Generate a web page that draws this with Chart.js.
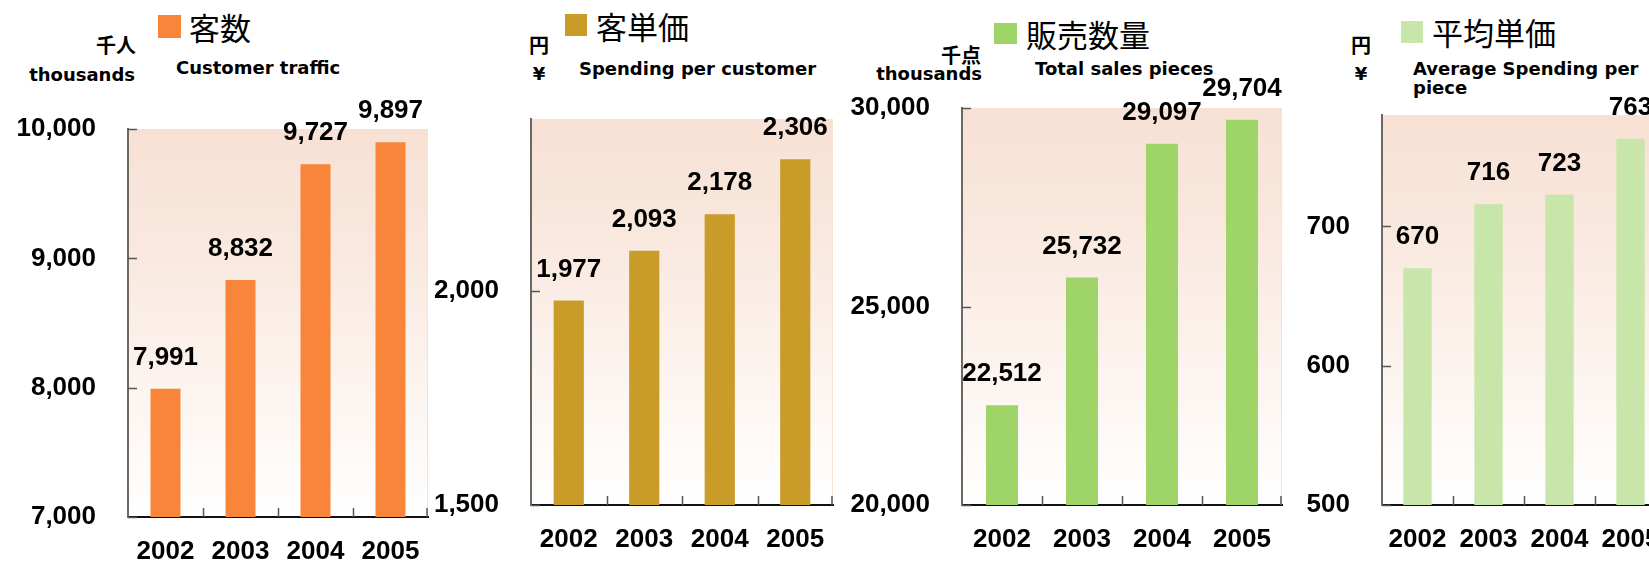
<!DOCTYPE html>
<html>
<head>
<meta charset="utf-8">
<script src="https://cdn.jsdelivr.net/npm/chart.js@4.4.0/dist/chart.umd.min.js"></script>
<style>
  body { margin: 0; width: 1649px; height: 563px; overflow: hidden; background: #fff; position: relative; }
  canvas { position: absolute; top: 0; }
  .sq { position: absolute; }
  .t { position: absolute; white-space: nowrap; color: #000; }
  .jp { font-family: "Noto Sans CJK JP", sans-serif; font-size: 31px; height: 40px; line-height: 40px; }
  .en { font-family: "DejaVu Sans", sans-serif; font-weight: bold; font-size: 18px; height: 20px; line-height: 20px; }
  .unit { font-family: "Noto Sans CJK JP", sans-serif; font-weight: bold; font-size: 20px; height: 20px; line-height: 20px; }
  .r { text-align: right; width: 120px; }
  .c { text-align: center; width: 40px; }
</style>
</head>
<body>
<!-- panel 1 -->
<div class="sq" style="left:158px;top:15px;width:23px;height:23px;background:#F9853B"></div>
<div class="t jp" style="left:189px;top:7px">客数</div>
<div class="t unit r" style="left:16px;top:35px">千人</div>
<div class="t en r" style="left:15px;top:65px">thousands</div>
<div class="t en" style="left:176px;top:58px">Customer traffic</div>
<!-- panel 2 -->
<div class="sq" style="left:565px;top:14px;width:22px;height:22px;background:#C99C2A"></div>
<div class="t jp" style="left:596px;top:6px">客単価</div>
<div class="t unit c" style="left:519px;top:35px">円</div>
<div class="t en c" style="left:519px;top:64px">¥</div>
<div class="t en" style="left:579px;top:59px">Spending per customer</div>
<!-- panel 3 -->
<div class="sq" style="left:994px;top:23px;width:23px;height:21px;background:#9ED468"></div>
<div class="t jp" style="left:1026px;top:14px">販売数量</div>
<div class="t unit r" style="left:861px;top:45px">千点</div>
<div class="t en r" style="left:862px;top:64px">thousands</div>
<div class="t en" style="left:1035px;top:59px">Total sales pieces</div>
<!-- panel 4 -->
<div class="sq" style="left:1401px;top:21px;width:22px;height:22px;background:#C9E6AA"></div>
<div class="t jp" style="left:1432px;top:12px">平均単価</div>
<div class="t unit c" style="left:1341px;top:35px">円</div>
<div class="t en c" style="left:1341px;top:64px">¥</div>
<div class="t en" style="left:1413px;top:59px;height:auto;line-height:19px">Average Spending per<br>piece</div>

<canvas id="c1"></canvas>
<canvas id="c2"></canvas>
<canvas id="c3"></canvas>
<canvas id="c4"></canvas>

<script>
const years = ['2002', '2003', '2004', '2005'];

const trafficValues = [7991, 8832, 9727, 9897];
const spendingValues = [1977, 2093, 2178, 2306];
const piecesValues = [22512, 25732, 29097, 29704];
const avgPriceValues = [670, 716, 723, 763];

const trafficTicks = [7000, 8000, 9000, 10000];
const spendingTicks = [1500, 2000];
const piecesTicks = [20000, 25000, 30000];
const avgPriceTicks = [500, 600, 700];

const numFont = { family: '"Liberation Sans", Arial, sans-serif', weight: 'bold', size: 26 };
const fmt = v => Number(v).toLocaleString('en-US');

// plot area placement on the page
const panels = [
  { id: 'c1', values: trafficValues, ticks: trafficTicks, min: 7000, max: 10000, color: '#F9853B', left: 128, right: 428, top: 129, bottom: 517 },
  { id: 'c2', values: spendingValues, ticks: spendingTicks, min: 1500, max: 2400, color: '#C99C2A', left: 531, right: 833, top: 119, bottom: 505 },
  { id: 'c3', values: piecesValues, ticks: piecesTicks, min: 20000, max: 30000, color: '#9ED468', left: 962, right: 1282, top: 108, bottom: 505 },
  { id: 'c4', values: avgPriceValues, ticks: avgPriceTicks, min: 500, max: 780, color: '#C9E6AA', left: 1382, right: 1666, top: 115, bottom: 505 }
];

const AXIS_W = 128, PAD_R = 30, H = 563;

const panelDeco = {
  id: 'panelDeco',
  beforeDraw(chart) {
    const { ctx, chartArea: a } = chart;
    const g = ctx.createLinearGradient(0, a.top, 0, a.bottom);
    g.addColorStop(0, '#F7E1D4');
    g.addColorStop(0.3, '#F9E8DE');
    g.addColorStop(1, '#FFFFFF');
    ctx.save();
    ctx.fillStyle = g;
    ctx.fillRect(a.left, a.top, a.right - a.left, a.bottom - a.top);
    ctx.strokeStyle = '#F3E6CC';
    ctx.lineWidth = 1;
    ctx.beginPath();
    ctx.moveTo(a.right - 0.5, a.top);
    ctx.lineTo(a.right - 0.5, a.bottom);
    ctx.stroke();
    ctx.restore();
  },
  afterDatasetsDraw(chart) {
    const { ctx, chartArea: a, scales: { x, y } } = chart;
    ctx.save();
    // inward tick marks
    ctx.strokeStyle = '#555';
    ctx.lineWidth = 1.5;
    ctx.beginPath();
    y.ticks.forEach(t => {
      const py = Math.round(y.getPixelForValue(t.value)) + 0.5;
      ctx.moveTo(a.left, py);
      ctx.lineTo(a.left + 9, py);
    });
    const n = chart.data.labels.length;
    for (let i = 1; i <= n; i++) {
      const px = i < n ? Math.round((x.getPixelForTick(i - 1) + x.getPixelForTick(i)) / 2) + 0.5 : a.right - 1;
      ctx.moveTo(px, a.bottom);
      ctx.lineTo(px, a.bottom - 9);
    }
    ctx.stroke();
    // value labels
    ctx.fillStyle = '#000';
    ctx.font = `${numFont.weight} ${numFont.size}px ${numFont.family}`;
    ctx.textAlign = 'center';
    ctx.textBaseline = 'middle';
    const meta = chart.getDatasetMeta(0);
    meta.data.forEach((bar, i) => {
      ctx.fillText(fmt(chart.data.datasets[0].data[i]), bar.x, bar.y - 31);
    });
    ctx.restore();
  }
};

panels.forEach(p => {
  const cv = document.getElementById(p.id);
  const w = p.right - p.left + AXIS_W + PAD_R;
  cv.width = w;
  cv.height = H;
  cv.style.left = (p.left - AXIS_W) + 'px';
  cv.style.width = w + 'px';
  cv.style.height = H + 'px';

  new Chart(cv, {
    type: 'bar',
    data: {
      labels: years,
      datasets: [{
        data: p.values,
        backgroundColor: p.color,
        barPercentage: 0.4,
        categoryPercentage: 1
      }]
    },
    options: {
      responsive: false,
      animation: false,
      layout: { padding: { top: p.top, right: PAD_R, left: 0, bottom: 0 } },
      plugins: { legend: { display: false }, tooltip: { enabled: false } },
      scales: {
        x: {
          grid: { display: false },
          border: { display: true, color: '#111', width: 2 },
          ticks: { color: '#000', font: numFont, padding: 11, maxRotation: 0 },
          afterFit(s) { s.height = H - p.bottom; }
        },
        y: {
          min: p.min,
          max: p.max,
          grid: { display: false },
          border: { display: true, color: '#6E6862', width: 2 },
          ticks: { color: '#000', font: numFont, padding: 24, callback: v => fmt(v) },
          afterBuildTicks(s) { s.ticks = p.ticks.map(v => ({ value: v })); },
          afterFit(s) { s.width = AXIS_W; }
        }
      }
    },
    plugins: [panelDeco]
  });
});
</script>
</body>
</html>
